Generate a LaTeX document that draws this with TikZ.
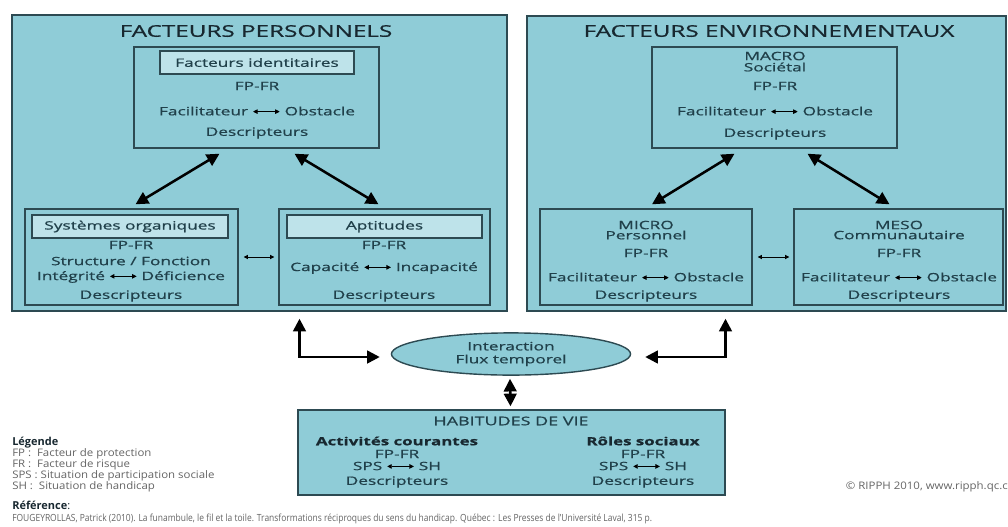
\documentclass[tikz,border=0pt]{standalone}
\usepackage{fontspec}
\setmainfont[FakeStretch=1.5, FakeBold=0.8]{Open Sans}
\newfontfamily\legfont[FakeStretch=1.1]{Open Sans}
\newfontfamily\titlefont{Open Sans}
\newfontfamily\reffont[FakeStretch=0.86]{Open Sans}
\usetikzlibrary{positioning,shapes,arrows.meta,fit}
\usepackage{xcolor}

\definecolor{fondbleu}{RGB}{143,204,215}
\definecolor{clair}{RGB}{190,227,234}
\definecolor{bord}{RGB}{45,74,82}
\definecolor{texte}{RGB}{32,64,74}
\definecolor{titrecol}{RGB}{24,40,48}
\definecolor{gris}{RGB}{100,100,100}

\tikzset{
  bigbox/.style={draw=bord, fill=fondbleu, line width=1pt, inner sep=0pt},
  cadre/.style={draw=bord, fill=fondbleu, line width=1pt, inner sep=0pt},
  entete/.style={draw=bord, fill=clair, line width=1pt, inner sep=0pt},
  titre/.style={inner sep=0pt, text=titrecol, font=\fontsize{11.5}{13}\selectfont},
  txt/.style={inner sep=0pt, text=texte, font=\fontsize{8.2}{9.6}\selectfont},
  gras/.style={inner sep=0pt, text=titrecol, font=\fontsize{8}{9.6}\selectfont\bfseries},
  grosse/.style={{Triangle[length=9pt,width=9pt]}-{Triangle[length=9pt,width=9pt]}, line width=1.8pt},
  petite/.style={{Triangle[length=3pt,width=3pt]}-{Triangle[length=3pt,width=3pt]}, line width=0.6pt},
  leg/.style={inner sep=0pt, anchor=west, text=gris, font=\legfont\fontsize{7.4}{8}\selectfont},
  legtitre/.style={inner sep=0pt, anchor=west, text=titrecol, font=\titlefont\fontsize{7.8}{8}\selectfont\bfseries}
}
\newcommand{\dfleche}{\tikz[baseline=-0.6ex]\draw[draw=black, {Triangle[length=3.2pt,width=3.2pt]}-{Triangle[length=3.2pt,width=3.2pt]}, line width=0.6pt] (0,0) -- (19pt,0);}

\begin{document}
\begin{tikzpicture}[x=0.025cm, y=-0.025cm]
  \useasboundingbox (0,0) rectangle (1008,527);

  % facteurs personnels
  \node[bigbox, fit={(12,15) (507,311)}] (perso) {};
  \node[titre] (tperso) at (256,31) {FACTEURS PERSONNELS};

  \node[cadre, fit={(134,47) (379,148)}] (ident) {};
  \node[entete, fit={(160,51) (354,74)}] (identH) {};
  \node[txt] (identT) at (identH) {Facteurs identitaires};
  \node[txt] (identFP) at (257,86) {FP-FR};
  \node[txt] (identFO) at (257,111) {Facilitateur \dfleche{} Obstacle};
  \node[txt] (identD) at (257,133) {Descripteurs};

  \node[cadre, fit={(25,209) (238,305)}] (syst) {};
  \node[entete, fit={(32,215) (228,238)}] (systH) {};
  \node[txt] (systT) at (systH) {Systèmes organiques};
  \node[txt] (systFP) at (131,245) {FP-FR};
  \node[txt] (systSF) at (131,261) {Structure / Fonction};
  \node[txt] (systID) at (131,277) {Intégrité \dfleche{} Déficience};
  \node[txt] (systD) at (131,296) {Descripteurs};

  \node[cadre, fit={(279,209) (490,305)}] (apt) {};
  \node[entete, fit={(287,215) (482,238)}] (aptH) {};
  \node[txt] (aptT) at (aptH) {Aptitudes};
  \node[txt] (aptFP) at (384,245) {FP-FR};
  \node[txt] (aptCI) at (384,268) {Capacité \dfleche{} Incapacité};
  \node[txt] (aptD) at (384,296) {Descripteurs};

  \draw[grosse] ([shift={(-37,5)}]ident.south) -- ([shift={(4,-4)}]syst.north);
  \draw[grosse] ([shift={(38,5)}]ident.south) -- ([shift={(-6,-4)}]apt.north);
  \draw[petite] ([shift={(5,0)}]syst.east) -- ([shift={(-4,0)}]apt.west);

  % facteurs environnementaux
  \node[bigbox, fit={(527,16) (1006,311)}] (envir) {};
  \node[titre] (tenvir) at (769,31) {FACTEURS ENVIRONNEMENTAUX};

  \node[cadre, fit={(652,47) (897,148)}] (macro) {};
  \node[txt] (macroT) at (775,56) {MACRO};
  \node[txt] (macroS) at (775,67) {Sociétal};
  \node[txt] (macroFP) at (775,86) {FP-FR};
  \node[txt] (macroFO) at (775,111) {Facilitateur \dfleche{} Obstacle};
  \node[txt] (macroD) at (775,134) {Descripteurs};

  \node[cadre, fit={(540,209) (752,305)}] (micro) {};
  \node[txt] (microT) at (646,225) {MICRO};
  \node[txt] (microS) at (646,235) {Personnel};
  \node[txt] (microFP) at (646,253) {FP-FR};
  \node[txt] (microFO) at (646,277) {Facilitateur \dfleche{} Obstacle};
  \node[txt] (microD) at (646,296) {Descripteurs};

  \node[cadre, fit={(794,209) (1003,305)}] (meso) {};
  \node[txt] (mesoT) at (899,225) {MESO};
  \node[txt] (mesoS) at (899,235) {Communautaire};
  \node[txt] (mesoFP) at (899,253) {FP-FR};
  \node[txt] (mesoFO) at (899,277) {Facilitateur \dfleche{} Obstacle};
  \node[txt] (mesoD) at (899,296) {Descripteurs};

  \draw[grosse] ([shift={(-40,5)}]macro.south) -- ([shift={(6,-4)}]micro.north);
  \draw[grosse] ([shift={(33,5)}]macro.south) -- ([shift={(-9,-4)}]meso.north);
  \draw[petite] ([shift={(5,0)}]micro.east) -- ([shift={(-4,0)}]meso.west);

  % interaction et habitudes de vie
  \node[ellipse, draw=bord, fill=fondbleu, line width=1pt, inner sep=0pt,
        minimum width=170pt, minimum height=30pt, align=center,
        text=texte, font=\fontsize{8.2}{9.2}\selectfont] (inter) at (511,354)
        {Interaction\\Flux temporel};

  \draw[grosse] ([shift={(-11,3)}]inter.west) -| ([shift={(40,7)}]perso.south);
  \draw[grosse] ([shift={(14,3)}]inter.east) -| ([shift={(-41,7)}]envir.south);

  \node[cadre, fit={(298,410) (725,495)}] (habit) {};
  \node[txt, font=\fontsize{8.5}{10}\selectfont] (habitT) at (511,421) {HABITUDES DE VIE};
  \node[gras] (actT) at (397,441) {Activités courantes};
  \node[txt] (actFP) at (397,454) {FP-FR};
  \node[txt] (actS) at (397,466) {SPS \dfleche{} SH};
  \node[txt] (actD) at (397,482) {Descripteurs};
  \node[gras] (roleT) at (643,441) {Rôles sociaux};
  \node[txt] (roleFP) at (643,454) {FP-FR};
  \node[txt] (roleS) at (643,466) {SPS \dfleche{} SH};
  \node[txt] (roleD) at (643,482) {Descripteurs};

  \draw[grosse] ([shift={(-1,3)}]inter.south) -- ([shift={(-1,-3)}]habit.north);

  % legende
  \node[legtitre] (legT) at (12,443) {Légende};
  \node[leg] (legFP) at (12,454) {FP :\ \ Facteur de protection};
  \node[leg] (legFR) at (12,465) {FR :\ \ Facteur de risque};
  \node[leg] (legSPS) at (12,476) {SPS : Situation de participation sociale};
  \node[leg] (legSH) at (12,487) {SH :\ \ Situation de handicap};
  \node[leg, anchor=east] (copy) at (1008,487) {© RIPPH 2010, www.ripph.qc.c};

  \node[legtitre] (refT) at (12,505) {Référence\textmd{:}};
  \node[leg, font=\reffont\fontsize{7}{8}\selectfont] (refF) at (12,519) {FOUGEYROLLAS, Patrick (2010). La funambule, le fil et la toile. Transformations réciproques du sens du handicap. Québec : Les Presses de l’Université Laval, 315 p.};
\end{tikzpicture}
\end{document}
